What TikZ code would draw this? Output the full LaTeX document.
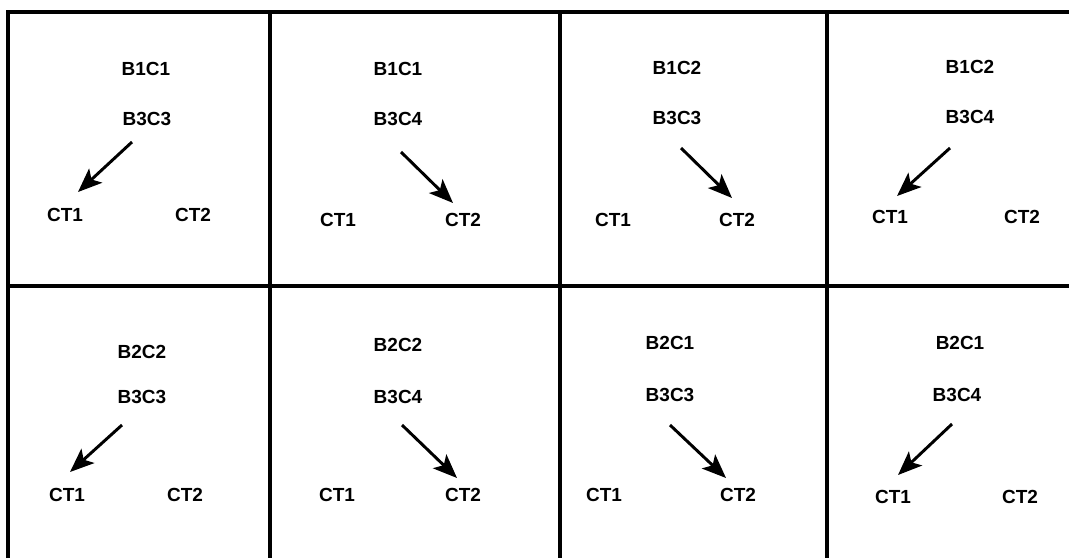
\documentclass[tikz,border=0pt]{standalone}
\usepackage{fontspec}
\setmainfont{Liberation Sans}
\usetikzlibrary{arrows.meta}
\tikzset{
  lbl/.style={font=\bfseries\fontsize{13.5}{15}\selectfont, inner sep=1pt},
  grid/.style={line width=2.8pt},
  arr/.style={line width=2.1pt, -{Stealth[length=0.6cm, width=0.48cm, inset=0.14cm]}}
}
\begin{document}
\begin{tikzpicture}[x=0.025cm, y=-0.025cm]
  \useasboundingbox (0,0) rectangle (1069,558);
  % frame and grid
  \draw[grid] (8,558) -- (8,12) -- (1069,12);
  \draw[grid] (8,286) -- (1069,286);
  \draw[grid] (270,12) -- (270,558);
  \draw[grid] (560,12) -- (560,558);
  \draw[grid] (827,12) -- (827,558);
  % top row
  \node[lbl] (t11) at (146,69) {B1C1};
  \node[lbl] (m11) at (147,119) {B3C3};
  \node[lbl] (l11) at (65,215) {CT1};
  \node[lbl] (r11) at (193,215) {CT2};
  \coordinate (s11) at (132,142);
  \coordinate (e11) at (78,192);
  \draw[arr] (s11) -- (e11);

  \node[lbl] (t12) at (398,69) {B1C1};
  \node[lbl] (m12) at (398,119) {B3C4};
  \node[lbl] (l12) at (338,220) {CT1};
  \node[lbl] (r12) at (463,220) {CT2};
  \coordinate (s12) at (401,152);
  \coordinate (e12) at (453,203);
  \draw[arr] (s12) -- (e12);

  \node[lbl] (t13) at (677,68) {B1C2};
  \node[lbl] (m13) at (677,118) {B3C3};
  \node[lbl] (l13) at (613,220) {CT1};
  \node[lbl] (r13) at (737,220) {CT2};
  \coordinate (s13) at (681,148);
  \coordinate (e13) at (732,198);
  \draw[arr] (s13) -- (e13);

  \node[lbl] (t14) at (970,67) {B1C2};
  \node[lbl] (m14) at (970,117) {B3C4};
  \node[lbl] (l14) at (890,217) {CT1};
  \node[lbl] (r14) at (1022,217) {CT2};
  \coordinate (s14) at (950,148);
  \coordinate (e14) at (897,196);
  \draw[arr] (s14) -- (e14);
  % bottom row
  \node[lbl] (t21) at (142,352) {B2C2};
  \node[lbl] (m21) at (142,397) {B3C3};
  \node[lbl] (l21) at (67,495) {CT1};
  \node[lbl] (r21) at (185,495) {CT2};
  \coordinate (s21) at (122,425);
  \coordinate (e21) at (70,472);
  \draw[arr] (s21) -- (e21);

  \node[lbl] (t22) at (398,345) {B2C2};
  \node[lbl] (m22) at (398,397) {B3C4};
  \node[lbl] (l22) at (337,495) {CT1};
  \node[lbl] (r22) at (463,495) {CT2};
  \coordinate (s22) at (402,425);
  \coordinate (e22) at (457,478);
  \draw[arr] (s22) -- (e22);

  \node[lbl] (t23) at (670,343) {B2C1};
  \node[lbl] (m23) at (670,395) {B3C3};
  \node[lbl] (l23) at (604,495) {CT1};
  \node[lbl] (r23) at (738,495) {CT2};
  \coordinate (s23) at (670,425);
  \coordinate (e23) at (726,478);
  \draw[arr] (s23) -- (e23);

  \node[lbl] (t24) at (960,343) {B2C1};
  \node[lbl] (m24) at (957,395) {B3C4};
  \node[lbl] (l24) at (893,497) {CT1};
  \node[lbl] (r24) at (1020,497) {CT2};
  \coordinate (s24) at (952,424);
  \coordinate (e24) at (898,475);
  \draw[arr] (s24) -- (e24);
\end{tikzpicture}
\end{document}
